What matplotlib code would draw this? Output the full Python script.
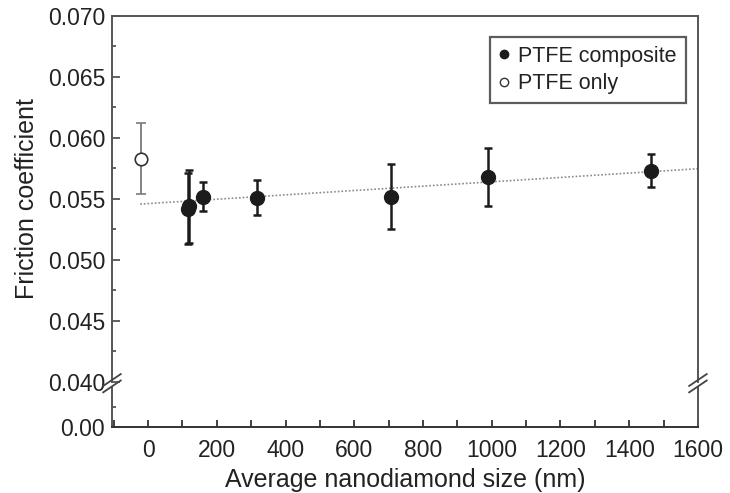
import numpy as np
import matplotlib
matplotlib.use("Agg")
import matplotlib.pyplot as plt
from matplotlib.ticker import MultipleLocator, FormatStrFormatter, FixedLocator

plt.rcParams.update(
    {
        "font.family": ["Liberation Sans", "DejaVu Sans"],
        "text.color": "#222222",
        "axes.labelcolor": "#222222",
        "xtick.color": "#333333",
        "ytick.color": "#555555",
        "xtick.labelcolor": "#222222",
        "ytick.labelcolor": "#222222",
    }
)

# PTFE composite (nanodiamond filled)
size_nm = [115, 119, 160, 317, 707, 989, 1463]
friction = [0.0542, 0.0544, 0.0552, 0.0551, 0.0552, 0.0568, 0.0573]
friction_err = [0.0029, 0.0030, 0.0012, 0.00145, 0.0027, 0.0024, 0.00135]

# PTFE only
ptfe_x = [-20]
ptfe_y = [0.0583]
ptfe_err = [0.0029]

# linear trend
fit_x = [-23, 1600]
fit_y = [0.05458, 0.05748]

spine_col = "#555555"

fig = plt.figure(figsize=(7.30, 4.93), dpi=100)
ax = fig.add_axes([0.1534, 0.2252, 0.8027, 0.7424])
axb = fig.add_axes([0.1534, 0.1339, 0.8027, 0.0791], sharex=ax)

ax.plot(fit_x, fit_y, ls=(0, (1, 1.2)), color="#8a8a8a", lw=1.2, zorder=1)

ax.errorbar(
    ptfe_x, ptfe_y, yerr=ptfe_err, fmt="o", ms=9, mfc="white", mec="#333333",
    mew=1.2, ecolor="#7a7a7a", elinewidth=1.3, capsize=3.5, capthick=1.3, zorder=3,
)
ax.errorbar(
    size_nm, friction, yerr=friction_err, fmt="o", ms=10, mfc="#1c1c1c", mec="#1c1c1c",
    ecolor="#1c1c1c", elinewidth=1.8, capsize=3.2, capthick=1.8, zorder=4,
)

# legend handles
h1, = ax.plot([], [], "o", ms=6, mfc="#1c1c1c", mec="#1c1c1c", ls="none")
h2, = ax.plot([], [], "o", ms=6, mfc="white", mec="#333333", mew=1.0, ls="none")
leg = ax.legend(
    [h1, h2], ["PTFE composite", "PTFE only"], loc="upper right",
    bbox_to_anchor=(1 - 12 / 586, 1 - 21 / 366), borderaxespad=0, fontsize=15.5,
    frameon=True, fancybox=False, handlelength=0.5, handletextpad=0.4,
    borderpad=0.42, labelspacing=0.28,
)
leg.get_frame().set_edgecolor("#333333")
leg.get_frame().set_linewidth(1.6)

ax.set_xlim(-105, 1600)
ax.set_ylim(0.040, 0.070)
axb.set_ylim(0.0, 0.005)

ax.yaxis.set_major_locator(MultipleLocator(0.005))
ax.yaxis.set_minor_locator(MultipleLocator(0.0025))
ax.yaxis.set_major_formatter(FormatStrFormatter("%.3f"))
axb.yaxis.set_major_locator(FixedLocator([0.0]))
axb.yaxis.set_minor_locator(FixedLocator([0.0025]))
axb.yaxis.set_major_formatter(FormatStrFormatter("%.2f"))
axb.xaxis.set_major_locator(MultipleLocator(200))
axb.xaxis.set_minor_locator(MultipleLocator(100))

for a in (ax, axb):
    a.tick_params(axis="y", which="major", direction="in", length=6, width=1.3,
                  labelsize=16.5, pad=5, right=False)
    a.tick_params(axis="y", which="minor", direction="in", length=3, width=1.3, right=False)
    for s in a.spines.values():
        s.set_color(spine_col)
        s.set_linewidth(1.4)

ax.tick_params(axis="x", which="both", bottom=False, top=False, labelbottom=False)
axb.tick_params(axis="x", which="both", direction="in", length=5, width=1.3,
                labelsize=16.5, pad=9, top=False)
axb.spines["bottom"].set_color("#333333")

ax.spines["bottom"].set_visible(False)
axb.spines["top"].set_visible(False)

ax.set_ylabel("Friction coefficient", fontsize=18, labelpad=6)
axb.set_xlabel("Average nanodiamond size (nm)", fontsize=18, labelpad=4)

# break marks on both side spines
for xa in (0.0, 1.0):
    for dy in (-0.009, 0.004):
        fig.lines.append(
            plt.Line2D(
                [0.1534 + xa * 0.8027 - 0.012, 0.1534 + xa * 0.8027 + 0.012],
                [0.2252 + dy - 0.012, 0.2252 + dy + 0.012],
                transform=fig.transFigure, color="#444444", lw=1.3,
            )
        )

fig.savefig("out.png", dpi=100)
